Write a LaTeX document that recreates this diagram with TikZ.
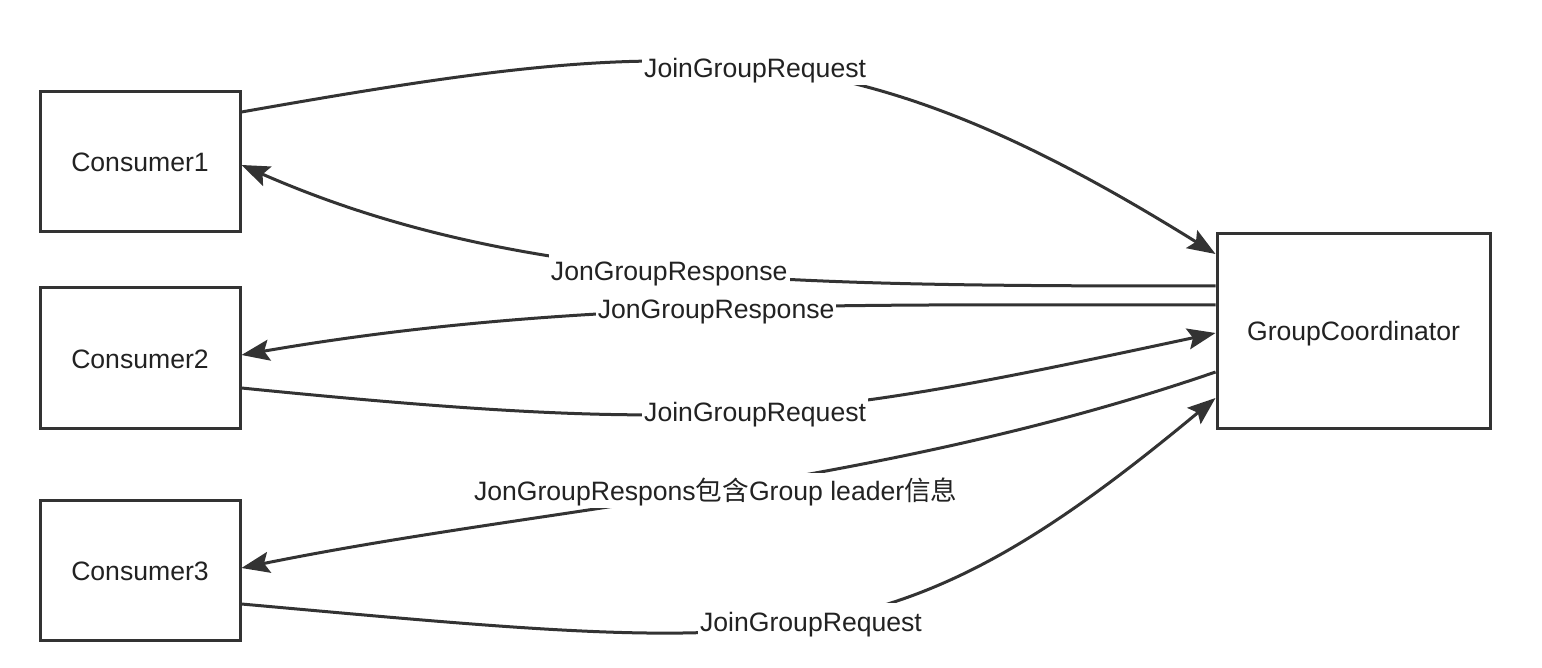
\documentclass[tikz,border=0pt]{standalone}
\usepackage{fontspec}
\setmainfont{Liberation Sans}
\newfontfamily\cjk{Noto Sans CJK SC}
\usetikzlibrary{arrows.meta,calc}
\definecolor{ln}{HTML}{333333}
\definecolor{tx}{HTML}{222222}
\begin{document}
\begin{tikzpicture}[x=0.5pt,y=-0.5pt,
  txt/.style={font=\fontsize{13.3}{15}\selectfont,text=tx,text height=12.8pt,text depth=2.8pt},
  box/.style={txt,draw=ln,line width=1.5pt,minimum width=100pt,minimum height=70pt,inner sep=0pt},
  conn/.style={draw=ln,line width=1.5pt,-{Stealth[length=14pt,width=10.5pt,inset=2.5pt]}},
  lbl/.style={txt,fill=white,inner sep=1pt}]
\useasboundingbox[fill=white] (0,0) rectangle (1542,668);
\node[box] (c1) at (140,162) {Consumer1};
\node[box] (c2) at (140,358) {Consumer2};
\node[box] (c3) at (140,570) {Consumer3};
\node[box,minimum width=136.5pt,minimum height=97pt] (gc) at (1353.5,331) {GroupCoordinator};
% Consumer1 -> GC
\draw[conn] ($(c1.east)+(0,-50)$) .. controls +(442,-78) and +(-371,-231) .. ($(gc.west)+(0,-77)$)
  node[lbl,pos=0.5] {JoinGroupRequest};
% GC -> Consumer1
\draw[conn] ($(gc.west)+(0,-45)$) .. controls +(-430,0) and +(272,119) .. ($(c1.east)+(0,3)$)
  node[lbl,pos=0.5] {JonGroupResponse};
% GC -> Consumer2
\draw[conn] ($(gc.west)+(0,-26)$) .. controls +(-357,0) and +(324,-56) .. ($(c2.east)+(0,-3)$)
  node[lbl,pos=0.5] {JonGroupResponse};
% Consumer2 -> GC
\draw[conn] ($(c2.east)+(0,30)$) .. controls +(478,48) and +(-407,87) .. ($(gc.west)+(0,2)$)
  node[lbl,pos=0.5] {JoinGroupRequest};
% GC -> Consumer3
\draw[conn] ($(gc.west)+(0,41)$) .. controls +(-334,115) and +(300,-61) .. ($(c3.east)+(0,-2)$)
  node[lbl,pos=0.5] {JonGroupRespons{\cjk 包含}Group leader{\cjk 信息}};
% Consumer3 -> GC
\draw[conn] ($(c3.east)+(0,34)$) .. controls +(546,49) and +(-326,271) .. ($(gc.west)+(0,67)$)
  node[lbl,pos=0.5] {JoinGroupRequest};
\end{tikzpicture}
\end{document}
